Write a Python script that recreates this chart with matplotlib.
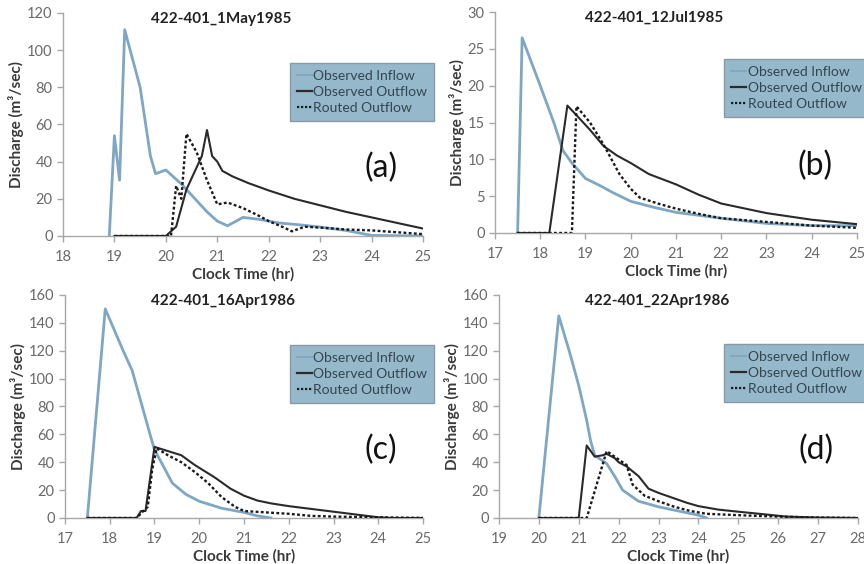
import matplotlib
matplotlib.use("Agg")
import matplotlib.pyplot as plt
from matplotlib.lines import Line2D

plt.rcParams['font.family'] = ['Lato', 'DejaVu Sans']

# ---- (a) 422-401_1May1985 ----
a_in_t = [18.9, 19.0, 19.1, 19.2, 19.5, 19.7, 19.8, 20.0, 20.3, 20.5, 20.8, 21.0, 21.2, 21.5, 21.8, 22.2, 22.6, 23.0, 23.5, 24.0, 25.0]
a_in_q = [0, 54, 30, 111, 80, 43, 33.5, 35.5, 28, 22, 13, 8, 5.5, 10, 9, 7, 6, 4.8, 3, 0.3, 0]
a_out_t = [19.0, 20.0, 20.2, 20.4, 20.6, 20.7, 20.8, 20.9, 21.0, 21.1, 21.3, 21.6, 22.0, 22.5, 23.0, 23.5, 24.0, 24.5, 25.0]
a_out_q = [0, 0, 5, 25, 37, 43, 57, 43, 40, 35, 32, 28.5, 24.5, 20, 16.5, 13, 10, 7, 4]
a_rt_t = [19.0, 20.1, 20.2, 20.3, 20.4, 20.5, 20.6, 20.8, 21.0, 21.2, 21.5, 21.8, 22.0, 22.3, 22.45, 22.7, 23.0, 23.5, 24.0, 24.5, 25.0]
a_rt_q = [0, 0, 27, 20, 55, 50, 45, 30, 17, 18, 15, 11, 8, 4.5, 2.5, 5, 4.5, 3.5, 3, 2, 1]

# ---- (b) 422-401_12Jul1985 ----
b_in_t = [17.5, 17.6, 18.0, 18.3, 18.5, 18.7, 19.0, 19.3, 19.6, 20.0, 20.5, 21.0, 22.0, 23.0, 24.0, 25.0]
b_in_q = [0, 26.5, 20, 15, 11.2, 9.5, 7.4, 6.5, 5.5, 4.3, 3.5, 2.8, 2.0, 1.3, 1.0, 1.0]
b_out_t = [17.5, 18.2, 18.6, 18.8, 19.1, 19.4, 19.7, 20.0, 20.4, 21.0, 21.5, 22.0, 23.0, 24.0, 25.0]
b_out_q = [0, 0, 17.3, 16, 14, 11.8, 10.5, 9.5, 8, 6.6, 5.2, 4, 2.7, 1.8, 1.2]
b_rt_t = [17.5, 18.7, 18.8, 19.1, 19.4, 19.75, 20.0, 20.2, 20.6, 21.0, 21.5, 22.0, 23.0, 24.0, 25.0]
b_rt_q = [0, 0, 17.2, 15, 12, 8, 6, 4.8, 4, 3.3, 2.6, 2.0, 1.5, 1.0, 0.7]

# ---- (c) 422-401_16Apr1986 ----
c_in_t = [17.5, 17.9, 18.3, 18.5, 18.7, 18.9, 19.0, 19.4, 19.7, 20.0, 20.5, 21.0, 21.3, 21.6]
c_in_q = [0, 150, 120, 106, 83, 60, 49, 25, 17, 12, 7, 4, 1.5, 0]
c_out_t = [17.5, 18.6, 18.7, 18.8, 19.0, 19.3, 19.6, 19.9, 20.1, 20.35, 20.7, 21.0, 21.3, 21.6, 22.0, 22.5, 23.0, 23.5, 24.0, 24.3, 25.0]
c_out_q = [0, 0, 5, 5, 51, 48, 45, 38, 34, 29, 21, 16, 12.5, 10.5, 8.5, 6.5, 4.5, 2.5, 0.5, 0, 0]
c_rt_t = [17.5, 18.6, 18.75, 18.85, 18.95, 19.05, 19.3, 19.6, 19.9, 20.2, 20.5, 20.8, 21.0, 21.5, 22.0, 22.5, 23.0, 24.0, 25.0]
c_rt_q = [0, 0, 5, 8, 35, 50, 45, 40, 33, 25, 15, 8, 5, 4, 3, 1.5, 1, 0.5, 0]

# ---- (d) 422-401_22Apr1986 ----
d_in_t = [20.0, 20.5, 20.8, 21.0, 21.2, 21.3, 21.4, 21.7, 21.9, 22.1, 22.5, 23.0, 23.5, 24.0, 24.2]
d_in_q = [0, 145, 116, 95, 70, 55, 45, 39, 30, 20, 12, 8, 5, 2, 0]
d_out_t = [20.0, 21.0, 21.2, 21.4, 21.6, 21.7, 21.9, 22.0, 22.2, 22.5, 22.75, 23.0, 23.3, 23.7, 24.0, 24.5, 25.0, 25.7, 26.2, 27.0, 28.0]
d_out_q = [0, 0, 52, 44, 45, 46, 43, 40, 37, 30, 21, 18, 15, 11, 8.5, 6, 4.5, 2.5, 1, 0.3, 0]
d_rt_t = [20.0, 21.2, 21.7, 21.9, 22.2, 22.35, 22.65, 23.0, 23.4, 23.8, 24.2, 25.0, 26.0, 27.0, 28.0]
d_rt_q = [0, 0, 48, 44, 38, 24, 16, 12, 8, 5, 3, 2, 1, 0.3, 0]

titles = ["422-401_1May1985", "422-401_12Jul1985", "422-401_16Apr1986", "422-401_22Apr1986"]
tags = ["(a)", "(b)", "(c)", "(d)"]
xlims = [(18, 25), (17, 25), (17, 25), (19, 28)]
ylims = [(0, 120), (0, 30), (0, 160), (0, 160)]
ysteps = [20, 5, 20, 20]
legend_names = ["Observed Inflow", "Observed Outflow", "Routed Outflow"]

series = [
    (a_in_t, a_in_q, a_out_t, a_out_q, a_rt_t, a_rt_q),
    (b_in_t, b_in_q, b_out_t, b_out_q, b_rt_t, b_rt_q),
    (c_in_t, c_in_q, c_out_t, c_out_q, c_rt_t, c_rt_q),
    (d_in_t, d_in_q, d_out_t, d_out_q, d_rt_t, d_rt_q),
]

# axes rectangles in figure fraction
rects = [
    [0.0729, 0.5816, 0.4167, 0.3954],
    [0.5729, 0.5869, 0.4190, 0.3918],
    [0.0752, 0.0816, 0.4144, 0.3954],
    [0.5775, 0.0816, 0.4155, 0.3954],
]
# upper-left corner of each legend box, in axes fraction
legend_corners = [
    (0.630, 0.776),
    (0.633, 0.787),
    (0.628, 0.776),
    (0.627, 0.780),
]

inflow_c = "#7fa6c2"
out_c = "#2a2a2a"
spine_c = "#a8a8a8"
tick_c = "#6a6a6a"
label_c = "#3a3a3a"

fig = plt.figure(figsize=(8.64, 5.64), dpi=100)

for i in range(4):
    ax = fig.add_axes(rects[i])
    it, iq, ot, oq, rt, rq = series[i]
    ax.plot(it, iq, color=inflow_c, lw=2.0, zorder=3)
    ax.plot(ot, oq, color=out_c, lw=1.5, zorder=4)
    ax.plot(rt, rq, color="#1a1a1a", lw=1.7, ls=(0, (1.2, 1.0)), zorder=5)

    ax.set_xlim(*xlims[i])
    ax.set_ylim(*ylims[i])
    ax.set_xticks(range(xlims[i][0], xlims[i][1] + 1))
    ax.set_yticks(range(ylims[i][0], ylims[i][1] + 1, ysteps[i]))
    for s in ("top", "right"):
        ax.spines[s].set_visible(False)
    for s in ("left", "bottom"):
        ax.spines[s].set_color(spine_c)
        ax.spines[s].set_linewidth(1.0)
    ax.tick_params(axis='both', colors=spine_c, labelcolor=tick_c, length=4,
                   width=1.0, labelsize=10.5, direction='out')
    ax.tick_params(axis='x', pad=6)

    ax.set_xlabel("Clock Time (hr)", fontsize=11, fontweight='bold', color=label_c, labelpad=2)
    ax.set_ylabel("Discharge (m\u00b3/sec)", fontsize=11, fontweight='bold', color=label_c, labelpad=2)

    ax.text(0.44, 0.975, titles[i], transform=ax.transAxes, ha='center', va='center',
            fontsize=11, fontweight='bold', color="#222222")
    ax.text(0.883, 0.305, tags[i], transform=ax.transAxes, ha='center', va='center',
            fontsize=23, color="#111111")

    handles = [
        Line2D([], [], color=inflow_c, lw=1.3),
        Line2D([], [], color=out_c, lw=1.6),
        Line2D([], [], color="#1a1a1a", lw=1.6, ls=(0, (1.0, 0.8))),
    ]
    leg = ax.legend(handles, legend_names, loc='upper left',
                    bbox_to_anchor=legend_corners[i],
                    fontsize=10, frameon=True, fancybox=False,
                    handlelength=1.1, handletextpad=0.1, borderpad=0.5,
                    labelspacing=0.3, borderaxespad=0)
    frame = leg.get_frame()
    frame.set_facecolor("#96b8cb")
    frame.set_edgecolor("#8a9aa4")
    frame.set_alpha(1.0)
    frame.set_linewidth(1.0)
    for t in leg.get_texts():
        t.set_color("#34454f")
    leg.set_zorder(10)

fig.savefig("out.png", dpi=100)
